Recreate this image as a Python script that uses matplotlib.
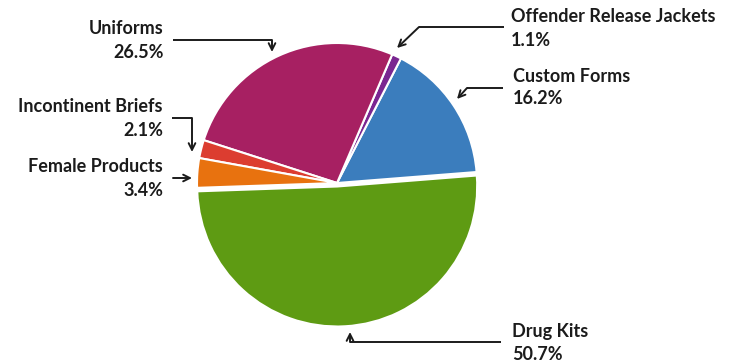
import matplotlib
matplotlib.use("Agg")
from matplotlib import pyplot as plt

# Data
categories = ["Custom Forms", "Offender Release Jackets", "Uniforms",
              "Incontinent Briefs", "Female Products", "Drug Kits"]
shares = [16.2, 1.1, 26.5, 2.1, 3.4, 50.7]
colors = ["#3b7dbd", "#7a2691", "#a72062", "#dc3d30", "#e8720f", "#5e9b13"]

W, H = 734, 364


def P(x, y):
    # pixel coords (top-left origin) -> axes data coords
    return (x, H - y)


fig = plt.figure(figsize=(W / 100, H / 100), dpi=100)
ax = fig.add_axes([0, 0, 1, 1])

explode = [0, 0, 0, 0, 0, 3.5]
ax.pie(shares, colors=colors, startangle=4.5, center=P(337, 183), radius=140,
       explode=explode, frame=True,
       wedgeprops=dict(edgecolor="white", linewidth=1.5))
ax.set_xlim(0, W)
ax.set_ylim(0, H)
ax.set_aspect("equal")
ax.axis("off")

# label layout: (anchor x, y line1, y line2, ha, leader path, arrow tip)
layout = {
    "Uniforms": (164, 29, 52, "right", [(173, 40), (272, 40)], (272, 52)),
    "Incontinent Briefs": (163, 107, 130, "right", [(172, 118), (192, 118)], (192, 152)),
    "Female Products": (163, 166, 190, "right", [(173, 178)], (192, 178)),
    "Offender Release Jackets": (511, 16, 40, "left", [(504, 27), (419, 27)], (397, 48)),
    "Custom Forms": (513, 76, 99, "left", [(503, 88), (467, 88)], (457, 99)),
    "Drug Kits": (512, 332, 355, "left", [(501, 342), (350, 342)], (350, 332)),
}

font = dict(family=["Lato", "DejaVu Sans"], fontsize=13, fontweight="bold",
            color="#1b1b1b", va="center")

for name, val in zip(categories, shares):
    x, y1, y2, ha, path, tip = layout[name]
    ax.text(*P(x, y1), name, ha=ha, **font)
    ax.text(*P(x, y2), f"{val}%", ha=ha, **font)
    pts = [P(*p) for p in path]
    if len(pts) > 1:
        ax.plot([p[0] for p in pts], [p[1] for p in pts], color="#1b1b1b",
                lw=1.4, solid_capstyle="butt")
    ax.annotate("", xy=P(*tip), xytext=pts[-1],
                arrowprops=dict(arrowstyle="->", color="#1b1b1b", lw=1.4,
                                mutation_scale=12, shrinkA=0, shrinkB=0))

fig.savefig("out.png", dpi=100)
